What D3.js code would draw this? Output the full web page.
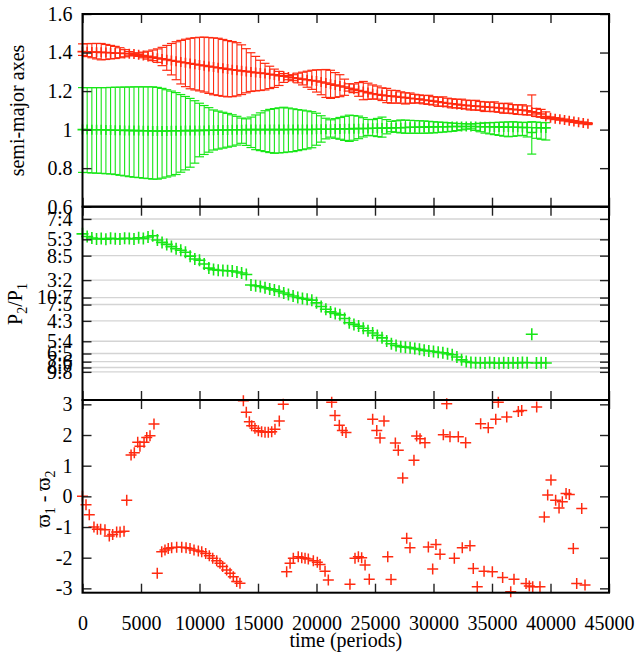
<!DOCTYPE html>
<html>
<head>
<meta charset="utf-8">
<script src="https://cdn.jsdelivr.net/npm/d3@7"></script>
<style>
  body { margin: 0; background: #fff; }
  svg { display: block; }
</style>
</head>
<body>
<svg id="chart" width="638" height="656"></svg>
<script>
// ---- data -------------------------------------------------------------
// sampling interval (periods) of the orbital-element series
const STEP = 400;

// planet 1 (outer, red): mean semi-major axis with min / max over each interval
const redMean = [
  1.405,1.404,1.403,1.402,1.401,1.400,1.399,1.397,1.396,1.395,
  1.394,1.392,1.389,1.384,1.380,1.376,1.371,1.367,1.363,1.359,
  1.355,1.351,1.347,1.343,1.339,1.335,1.332,1.328,1.325,1.321,
  1.318,1.314,1.311,1.308,1.305,1.302,1.299,1.296,1.294,1.291,
  1.287,1.284,1.280,1.277,1.273,1.269,1.266,1.262,1.259,1.255,
  1.252,1.247,1.242,1.236,1.231,1.226,1.221,1.215,1.209,1.203,
  1.198,1.192,1.186,1.182,1.179,1.176,1.174,1.171,1.168,1.166,
  1.163,1.160,1.158,1.154,1.151,1.148,1.144,1.141,1.137,1.134,
  1.131,1.128,1.126,1.124,1.122,1.120,1.118,1.116,1.115,1.112,
  1.110,1.108,1.105,1.103,1.101,1.098,1.092,1.087,1.081,1.068,
  1.061,1.057,1.054,1.050,1.046,1.042,1.038,1.035,1.031
];
const redHigh = [
  1.445,1.446,1.447,1.447,1.447,1.442,1.437,1.432,1.425,1.415,
  1.405,1.398,1.398,1.402,1.407,1.413,1.419,1.427,1.437,1.447,
  1.456,1.463,1.469,1.474,1.477,1.479,1.480,1.478,1.476,1.474,
  1.468,1.462,1.457,1.451,1.440,1.420,1.399,1.380,1.360,1.344,
  1.329,1.314,1.302,1.291,1.281,1.285,1.293,1.298,1.303,1.308,
  1.310,1.311,1.312,1.308,1.296,1.285,1.262,1.238,1.237,1.244,
  1.250,1.241,1.232,1.226,1.217,1.214,1.204,1.203,1.196,1.191,
  1.190,1.183,1.180,1.177,1.178,1.171,1.168,1.170,1.163,1.160,
  1.157,1.158,1.153,1.151,1.152,1.146,1.144,1.142,1.144,1.137,
  1.135,1.137,1.130,1.128,1.129,1.123,1.180,1.110,1.105,1.092,
  1.066,1.062,1.059,1.055,1.051,1.047,1.043,1.040,1.036
];
const redLow = [
  1.385,1.379,1.373,1.367,1.362,1.364,1.367,1.369,1.373,1.378,
  1.383,1.384,1.380,1.373,1.366,1.358,1.349,1.332,1.308,1.284,
  1.259,1.237,1.223,1.212,1.206,1.201,1.195,1.188,1.181,1.177,
  1.173,1.170,1.171,1.175,1.182,1.191,1.198,1.201,1.203,1.206,
  1.213,1.219,1.229,1.245,1.259,1.254,1.243,1.232,1.220,1.209,
  1.195,1.181,1.167,1.162,1.167,1.171,1.178,1.200,1.192,1.173,
  1.155,1.157,1.159,1.158,1.151,1.140,1.137,1.138,1.137,1.133,
  1.137,1.138,1.139,1.134,1.131,1.128,1.121,1.122,1.119,1.113,
  1.113,1.110,1.107,1.102,1.102,1.100,1.094,1.095,1.093,1.090,
  1.085,1.086,1.083,1.079,1.078,1.076,1.076,1.068,1.064,1.058,
  1.056,1.052,1.049,1.045,1.041,1.037,1.033,1.030,1.026
];

// planet 2 (inner, green)
const greenMean = [
  1.000,1.000,0.999,0.999,0.999,0.998,0.998,0.997,0.997,0.996,
  0.996,0.995,0.995,0.994,0.994,0.993,0.993,0.993,0.993,0.994,
  0.994,0.994,0.995,0.995,0.995,0.996,0.996,0.997,0.997,0.998,
  0.998,0.998,0.999,0.999,0.999,1.000,1.000,1.000,1.000,1.000,
  1.000,1.000,1.000,1.000,1.001,1.001,1.001,1.001,1.001,1.001,
  1.002,1.002,1.002,1.002,1.003,1.003,1.004,1.004,1.005,1.005,
  1.006,1.006,1.007,1.007,1.008,1.008,1.009,1.010,1.010,1.011,
  1.012,1.012,1.013,1.013,1.014,1.014,1.015,1.015,1.015,1.016,
  1.016,1.016,1.016,1.016,1.016,1.015,1.015,1.015,1.014,1.014,
  1.013,1.013,1.012,1.012,1.011,1.011,0.985,1.010,1.010,1.009
];
const greenHigh = [
  1.218,1.218,1.218,1.218,1.218,1.218,1.219,1.220,1.220,1.221,
  1.221,1.222,1.222,1.222,1.222,1.222,1.219,1.214,1.207,1.200,
  1.192,1.182,1.172,1.162,1.150,1.137,1.125,1.114,1.102,1.096,
  1.090,1.084,1.077,1.069,1.060,1.056,1.065,1.076,1.087,1.098,
  1.105,1.109,1.113,1.116,1.112,1.108,1.104,1.101,1.097,1.093,
  1.085,1.072,1.059,1.051,1.057,1.063,1.069,1.075,1.073,1.070,
  1.062,1.053,1.052,1.058,1.065,1.052,1.043,1.046,1.050,1.049,
  1.048,1.047,1.046,1.045,1.043,1.041,1.039,1.038,1.036,1.034,
  1.032,1.031,1.030,1.029,1.031,1.033,1.035,1.036,1.037,1.038,
  1.039,1.040,1.041,1.039,1.037,1.038,1.041,1.039,1.037,1.036
];
const greenLow = [
  0.778,0.777,0.775,0.774,0.773,0.771,0.770,0.767,0.763,0.760,
  0.756,0.753,0.751,0.748,0.746,0.743,0.743,0.748,0.754,0.760,
  0.767,0.779,0.791,0.805,0.826,0.859,0.871,0.883,0.894,0.899,
  0.904,0.909,0.914,0.920,0.929,0.918,0.907,0.896,0.891,0.886,
  0.881,0.877,0.879,0.881,0.884,0.886,0.891,0.896,0.900,0.906,
  0.919,0.935,0.952,0.961,0.955,0.950,0.944,0.939,0.945,0.953,
  0.962,0.970,0.968,0.964,0.961,0.978,0.989,0.986,0.983,0.981,
  0.981,0.981,0.981,0.981,0.982,0.983,0.985,0.987,0.989,0.991,
  0.995,0.999,1.003,1.004,0.996,0.989,0.982,0.978,0.974,0.970,
  0.966,0.963,0.965,0.968,0.970,0.962,0.873,0.955,0.950,0.946
];

// period ratio P2/P1
const periodRatio = [
  1.689,1.678,1.672,1.668,1.670,1.667,1.671,1.669,1.668,1.671,
  1.670,1.668,1.673,1.670,1.676,1.681,1.664,1.654,1.646,1.637,
  1.628,1.622,1.614,1.598,1.586,1.581,1.566,1.549,1.543,1.540,
  1.539,1.538,1.537,1.533,1.529,1.523,1.480,1.477,1.474,1.469,
  1.464,1.460,1.454,1.447,1.441,1.435,1.429,1.425,1.422,1.418,
  1.407,1.392,1.381,1.370,1.364,1.358,1.343,1.326,1.319,1.312,
  1.303,1.293,1.284,1.274,1.264,1.251,1.240,1.233,1.228,1.226,
  1.224,1.220,1.217,1.213,1.210,1.208,1.205,1.203,1.199,1.195,
  1.186,1.174,1.167,1.163,1.162,1.162,1.161,1.163,1.161,1.160,
  1.162,1.161,1.162,1.161,1.163,1.162,1.279,1.161,1.162,1.161
];

// difference of the longitudes of pericentre (radians)
const phaseTime = [
  0,300,580,980,1270,1550,1920,2290,2580,2920,3210,3550,3780,4150,4430,4720,4910,5260,5490,5770,
  6110,6390,6770,7050,7330,7620,8050,8480,8850,9190,9530,9900,10190,10530,10840,11130,11470,11750,11980,12320,
  12610,12890,13180,13460,13750,14000,14260,14460,14740,15030,15310,15600,15880,16170,16450,16820,17160,17450,17740,18020,
  18440,18740,19020,19300,19730,20070,20300,20730,21010,21300,21580,21950,22210,22520,22860,23290,23580,23860,24150,24510,
  24800,25150,25430,25770,26090,26370,26740,26990,27370,27710,27990,28330,28560,28850,29270,29560,29930,30210,30560,30840,
  31130,31410,31780,32120,32460,32750,33120,33400,33740,34030,34320,34680,35030,35320,35540,35910,36260,36600,36880,37250,
  37540,37910,38190,38480,38820,39100,39470,39760,40040,40440,40730,41010,41330,41610,41950,42240,42670,42950
];
const phaseValue = [
  0.00,-0.27,-0.60,-1.00,-1.07,-1.07,-1.09,-1.29,-1.24,-1.16,-1.16,-1.14,-0.13,1.35,1.42,1.76,1.63,1.76,1.92,1.98,
  2.36,-2.51,-1.81,-1.75,-1.70,-1.68,-1.66,-1.66,-1.68,-1.70,-1.75,-1.78,-1.81,-1.86,-1.94,-2.02,-2.10,-2.18,-2.29,-2.40,
  -2.51,-2.62,-2.78,-2.83,3.12,2.74,2.43,2.30,2.22,2.14,2.11,2.09,2.09,2.11,2.19,2.46,3.00,-2.46,-2.18,-2.02,
  -1.97,-2.00,-2.02,-2.04,-2.10,-2.15,-2.22,-2.44,-2.73,3.07,2.64,2.32,2.15,2.08,-2.87,-2.02,-1.97,-2.00,-2.24,-2.70,
  2.51,2.15,1.90,2.46,-1.97,-2.71,1.74,1.50,0.60,-1.37,-1.68,1.18,1.97,1.88,1.75,-1.65,-2.37,-1.57,-1.89,2.01,
  3.02,1.94,-2.02,1.94,-1.68,1.75,-1.61,-2.35,-2.95,2.37,-2.44,2.24,-2.46,2.51,3.07,-2.65,2.59,-3.11,-2.70,2.77,
  2.80,-2.84,-2.92,-2.95,2.91,-2.95,-0.67,0.04,0.53,-0.13,-0.38,-0.18,0.09,0.06,-1.70,-2.84,-0.40,-2.89
];

// tick values and labels
const timeTicks = [0,5000,10000,15000,20000,25000,30000,35000,40000,45000];
const axisTicks = [0.6,0.8,1,1.2,1.4,1.6];
const resonanceLabels = ["7:4","5:3","8:5","3:2","10:7","7:5","4:3","5:4","6:5","7:6","8:7","9:8"];
const phaseTicks = [-3,-2,-1,0,1,2,3];

// ---- font: a Times-like face if installed, else a narrow sans ----------
function pickFont() {
  const ctx = document.createElement("canvas").getContext("2d");
  const probe = "mmmwwwiiilll 0123456789 The quick brown fox";
  const widthIn = f => { ctx.font = `40px ${f}`; return ctx.measureText(probe).width; };
  const baseMono = widthIn("monospace"), baseSans = widthIn("sans-serif");
  const serifs = ["Liberation Serif", "Times New Roman", "Tinos", "Nimbus Roman",
    "Noto Serif", "DejaVu Serif", "FreeSerif"];
  for (const c of serifs) {
    const q = `"${c}"`;
    if (widthIn(`${q}, monospace`) !== baseMono && widthIn(`${q}, sans-serif`) !== baseSans)
      return { family: `${q}, serif`, size: 20, sub: 14 };
  }
  return { family: `"Liberation Sans", Arial, sans-serif`, size: 18, sub: 13 };
}
const FONT = pickFont();

// ---- layout -----------------------------------------------------------
const RED = "#ff2a10";
const GREEN = "#17e617";
const TICK = 9;
const LEFT = 82.5, RIGHT = 609;
const panelA = [14, 206.7], panelR = [206.7, 400], panelP = [400, 592.7];

const svg = d3.select("#chart");

const x = d3.scaleLinear().domain([0, 45000]).range([LEFT, RIGHT]);
const yA = d3.scaleLinear().domain([0.6, 1.6]).range([panelA[1], panelA[0]]);
const yR = d3.scaleLinear().domain([1.01, 1.8]).range([panelR[1], panelR[0]]);
const yP = d3.scaleLinear().domain([-Math.PI, Math.PI]).range([panelP[1], panelP[0]]);

const resonances = resonanceLabels.map(s => { const [p, q] = s.split(":").map(Number); return { label: s, value: p / q }; });

const plus = r => `M${-r},0H${r}M0,${-r}V${r}`;

function styleAxis(g) {
  g.attr("font-family", null).attr("font-size", null);
  g.select(".domain").remove();
  g.selectAll(".tick line").attr("stroke", "#222").attr("stroke-width", 1.4);
  g.selectAll("text").style("font-family", FONT.family).style("font-size", FONT.size + "px").attr("fill", "#000");
}

function panelAxes(y, vals, fmt, extent, labelX) {
  const g = svg.append("g");
  g.append("g").attr("transform", `translate(${LEFT},0)`)
    .call(d3.axisLeft(y).tickValues(vals).tickSize(-TICK).tickPadding(10).tickFormat(fmt))
    .call(styleAxis);
  g.append("g").attr("transform", `translate(${RIGHT},0)`)
    .call(d3.axisRight(y).tickValues(vals).tickSize(-TICK).tickFormat(""))
    .call(styleAxis);
  g.append("g").attr("transform", `translate(0,${extent[0]})`)
    .call(d3.axisTop(x).tickValues(timeTicks).tickSize(-TICK).tickFormat(""))
    .call(styleAxis);
  g.append("g").attr("transform", `translate(0,${extent[1]})`)
    .call(d3.axisBottom(x).tickValues(timeTicks).tickSize(-TICK).tickPadding(23)
      .tickFormat(labelX ? d3.format("d") : ""))
    .call(styleAxis);
  g.append("rect")
    .attr("x", LEFT).attr("y", extent[0])
    .attr("width", RIGHT - LEFT).attr("height", extent[1] - extent[0])
    .attr("fill", "none").attr("stroke", "#000").attr("stroke-width", 2);
}

function errorBars(mean, lo, hi, color) {
  const n = Math.min(mean.length, lo.length, hi.length);
  const idx = d3.range(n);
  const g = svg.append("g").attr("stroke", color).attr("fill", "none");
  const cap = 4.5;
  g.selectAll(".bar").data(idx).join("line").attr("class", "bar")
    .attr("x1", i => x(i * STEP)).attr("x2", i => x(i * STEP))
    .attr("y1", i => yA(lo[i])).attr("y2", i => yA(hi[i]))
    .attr("stroke-width", 1.1);
  g.selectAll(".capLo").data(idx).join("line").attr("class", "capLo")
    .attr("x1", i => x(i * STEP) - cap).attr("x2", i => x(i * STEP) + cap)
    .attr("y1", i => yA(lo[i])).attr("y2", i => yA(lo[i]))
    .attr("stroke-width", 1.2);
  g.selectAll(".capHi").data(idx).join("line").attr("class", "capHi")
    .attr("x1", i => x(i * STEP) - cap).attr("x2", i => x(i * STEP) + cap)
    .attr("y1", i => yA(hi[i])).attr("y2", i => yA(hi[i]))
    .attr("stroke-width", 1.2);
  g.selectAll(".mean").data(idx).join("path").attr("class", "mean")
    .attr("transform", i => `translate(${x(i * STEP)},${yA(mean[i])})`)
    .attr("d", plus(5)).attr("stroke-width", 1.6);
}

// ---- top panel: semi-major axes ---------------------------------------
errorBars(greenMean, greenLow, greenHigh, GREEN);
errorBars(redMean, redLow, redHigh, RED);
panelAxes(yA, axisTicks, d => String(d), panelA, false);

// ---- middle panel: period ratio ---------------------------------------
svg.append("g").selectAll("line").data(resonances).join("line")
  .attr("x1", LEFT).attr("x2", RIGHT)
  .attr("y1", d => yR(d.value)).attr("y2", d => yR(d.value))
  .attr("stroke", "#d4d4d4").attr("stroke-width", 1.4);

svg.append("g").attr("stroke", GREEN).attr("fill", "none")
  .selectAll("path").data(periodRatio).join("path")
  .attr("transform", (d, i) => `translate(${x(i * STEP)},${yR(d)})`)
  .attr("d", plus(6)).attr("stroke-width", 1.6);

panelAxes(yR, resonances.map(d => d.value),
  v => resonances.find(r => r.value === v).label, panelR, false);

// ---- bottom panel: apsidal angle ---------------------------------------
svg.append("g").attr("stroke", RED).attr("fill", "none")
  .selectAll("path").data(d3.range(Math.min(phaseTime.length, phaseValue.length))).join("path")
  .attr("transform", i => `translate(${x(phaseTime[i])},${yP(phaseValue[i])})`)
  .attr("d", plus(5.5)).attr("stroke-width", 1.5);

panelAxes(yP, phaseTicks, d => String(d), panelP, true);

// ---- axis titles --------------------------------------------------------
const title = (tx, ty, rot) => svg.append("text")
  .attr("transform", `translate(${tx},${ty})` + (rot ? " rotate(-90)" : ""))
  .attr("text-anchor", "middle")
  .style("font-family", FONT.family).style("font-size", FONT.size + "px").attr("fill", "#000");

title(23.5, 110.5, true).text("semi-major axes");

const tP = title(22, 304, true);
tP.append("tspan").text("P");
tP.append("tspan").style("font-size", FONT.sub + "px").attr("dy", 5).text("2");
tP.append("tspan").attr("dy", -5).text("/P");
tP.append("tspan").style("font-size", FONT.sub + "px").attr("dy", 5).text("1");

const tW = title(50, 499, true);
tW.append("tspan").text("\u03D6");
tW.append("tspan").style("font-size", FONT.sub + "px").attr("dy", 5).text("1");
tW.append("tspan").attr("dy", -5).text(" - \u03D6");
tW.append("tspan").style("font-size", FONT.sub + "px").attr("dy", 5).text("2");

title((LEFT + RIGHT) / 2, 647, false).text("time (periods)");
</script>
</body>
</html>
